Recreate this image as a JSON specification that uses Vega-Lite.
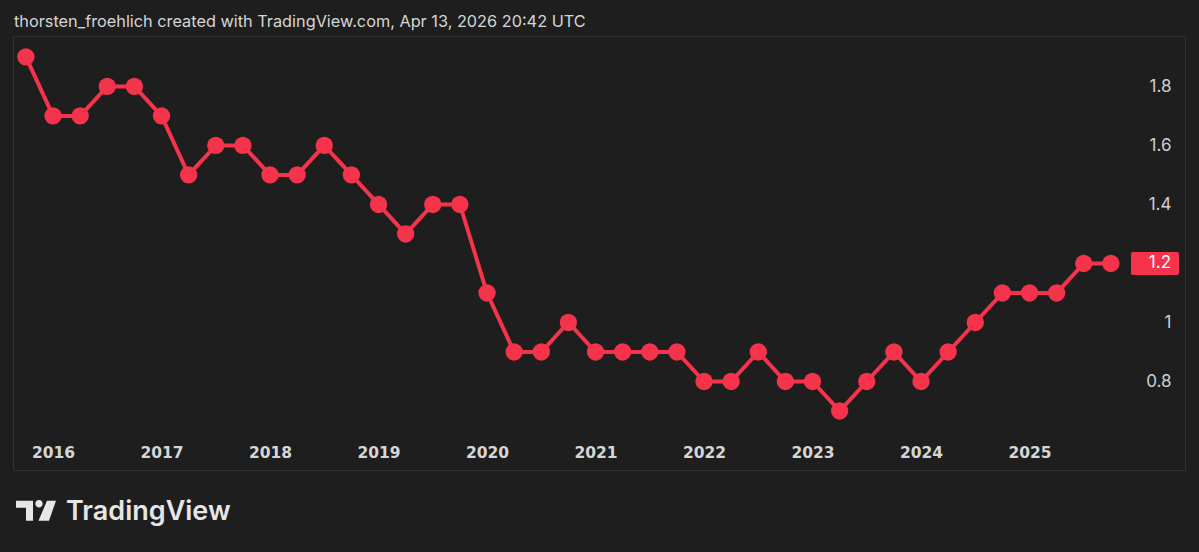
{
  "$schema": "https://vega.github.io/schema/vega-lite/v6.json",
  "width": 1172,
  "height": 434,
  "autosize": "none",
  "padding": {"left": 13, "top": 36, "right": 14, "bottom": 82},
  "background": "#1e1e1e",
  "view": {"stroke": "#323232", "strokeWidth": 1, "fill": "#1e1e1e"},
  "title": {
    "text": "thorsten_froehlich created with TradingView.com, Apr 13, 2026 20:42 UTC",
    "anchor": "start",
    "frame": "group",
    "dx": 1,
    "offset": 6,
    "font": "Inter",
    "fontSize": 16.3,
    "fontWeight": 400,
    "color": "#d6d6d6"
  },
  "config": {"font": "Inter"},
  "data": {
    "values": [
      {"t": 2015.75, "v": 1.9},
      {"t": 2016.0, "v": 1.7},
      {"t": 2016.25, "v": 1.7},
      {"t": 2016.5, "v": 1.8},
      {"t": 2016.75, "v": 1.8},
      {"t": 2017.0, "v": 1.7},
      {"t": 2017.25, "v": 1.5},
      {"t": 2017.5, "v": 1.6},
      {"t": 2017.75, "v": 1.6},
      {"t": 2018.0, "v": 1.5},
      {"t": 2018.25, "v": 1.5},
      {"t": 2018.5, "v": 1.6},
      {"t": 2018.75, "v": 1.5},
      {"t": 2019.0, "v": 1.4},
      {"t": 2019.25, "v": 1.3},
      {"t": 2019.5, "v": 1.4},
      {"t": 2019.75, "v": 1.4},
      {"t": 2020.0, "v": 1.1},
      {"t": 2020.25, "v": 0.9},
      {"t": 2020.5, "v": 0.9},
      {"t": 2020.75, "v": 1.0},
      {"t": 2021.0, "v": 0.9},
      {"t": 2021.25, "v": 0.9},
      {"t": 2021.5, "v": 0.9},
      {"t": 2021.75, "v": 0.9},
      {"t": 2022.0, "v": 0.8},
      {"t": 2022.25, "v": 0.8},
      {"t": 2022.5, "v": 0.9},
      {"t": 2022.75, "v": 0.8},
      {"t": 2023.0, "v": 0.8},
      {"t": 2023.25, "v": 0.7},
      {"t": 2023.5, "v": 0.8},
      {"t": 2023.75, "v": 0.9},
      {"t": 2024.0, "v": 0.8},
      {"t": 2024.25, "v": 0.9},
      {"t": 2024.5, "v": 1.0},
      {"t": 2024.75, "v": 1.1},
      {"t": 2025.0, "v": 1.1},
      {"t": 2025.25, "v": 1.1},
      {"t": 2025.5, "v": 1.2},
      {"t": 2025.75, "v": 1.2}
    ]
  },
  "layer": [
    {
      "mark": {"type": "line", "color": "#f5334b", "strokeWidth": 4, "clip": false},
      "encoding": {
        "x": {
          "field": "t",
          "type": "quantitative",
          "scale": {"domain": [2015.631, 2026.433], "nice": false, "zero": false},
          "axis": {
            "values": [2016, 2017, 2018, 2019, 2020, 2021, 2022, 2023, 2024, 2025],
            "format": "d",
            "title": null,
            "grid": false,
            "domain": false,
            "ticks": false,
            "tickSize": 0,
            "labelPadding": -18,
            "labelBaseline": "middle",
            "labelFont": "DejaVu Sans",
            "labelFontSize": 15.5,
            "labelFontWeight": 700,
            "labelColor": "#d6d6d6",
            "labelFlush": false,
            "labelOverlap": false
          }
        },
        "y": {
          "field": "v",
          "type": "quantitative",
          "scale": {"domain": [0.5, 1.971], "nice": false, "zero": false},
          "axis": {
            "orient": "right",
            "values": [0.8, 1, 1.4, 1.6, 1.8],
            "format": ".1~f",
            "title": null,
            "grid": false,
            "domain": false,
            "ticks": false,
            "tickSize": 0,
            "labelPadding": -14,
            "labelAlign": "right",
            "labelFont": "Inter",
            "labelFontSize": 17,
            "labelColor": "#d0d0d0"
          }
        }
      }
    },
    {
      "mark": {"type": "point", "filled": true, "color": "#f5334b", "opacity": 1, "size": 300, "clip": false},
      "encoding": {
        "x": {"field": "t", "type": "quantitative"},
        "y": {"field": "v", "type": "quantitative"}
      }
    },
    {
      "data": {"values": [{"x1": 2025.935, "x2": 2026.378, "y1": 1.161, "y2": 1.239}]},
      "mark": {"type": "rect", "color": "#f5334b", "cornerRadius": 2},
      "encoding": {
        "x": {"field": "x1", "type": "quantitative"},
        "x2": {"field": "x2"},
        "y": {"field": "y1", "type": "quantitative"},
        "y2": {"field": "y2"}
      }
    },
    {
      "data": {"values": [{"t": 2026.304, "v": 1.2, "label": "1.2"}]},
      "mark": {"type": "text", "align": "right", "baseline": "middle", "color": "#ffffff", "font": "Inter", "fontSize": 17},
      "encoding": {
        "x": {"field": "t", "type": "quantitative"},
        "y": {"field": "v", "type": "quantitative"},
        "text": {"field": "label"}
      }
    },
    {
      "data": {"values": [{"t": 2016.12, "v": 0.356, "label": "TradingView"}]},
      "mark": {"type": "text", "align": "left", "baseline": "middle", "color": "#e6e6e6", "font": "Inter", "fontSize": 27, "fontWeight": 600, "clip": false},
      "encoding": {
        "x": {"field": "t", "type": "quantitative"},
        "y": {"field": "v", "type": "quantitative"},
        "text": {"field": "label"}
      }
    },
    {
      "data": {"values": [{"t": 2015.843, "v": 0.362}]},
      "mark": {
        "type": "point",
        "filled": true,
        "opacity": 1,
        "color": "#e6e6e6",
        "size": 6724,
        "clip": false,
        "shape": "M-0.488,-0.244H-0.073V0.244H-0.244V-0.073H-0.488ZM0.488,-0.244L0.317,0.244H0.061L0.268,-0.244ZM0.163,-0.171A0.09,0.09,0,1,1,-0.017,-0.171A0.09,0.09,0,1,1,0.163,-0.171Z"
      },
      "encoding": {
        "x": {"field": "t", "type": "quantitative"},
        "y": {"field": "v", "type": "quantitative"}
      }
    }
  ]
}
